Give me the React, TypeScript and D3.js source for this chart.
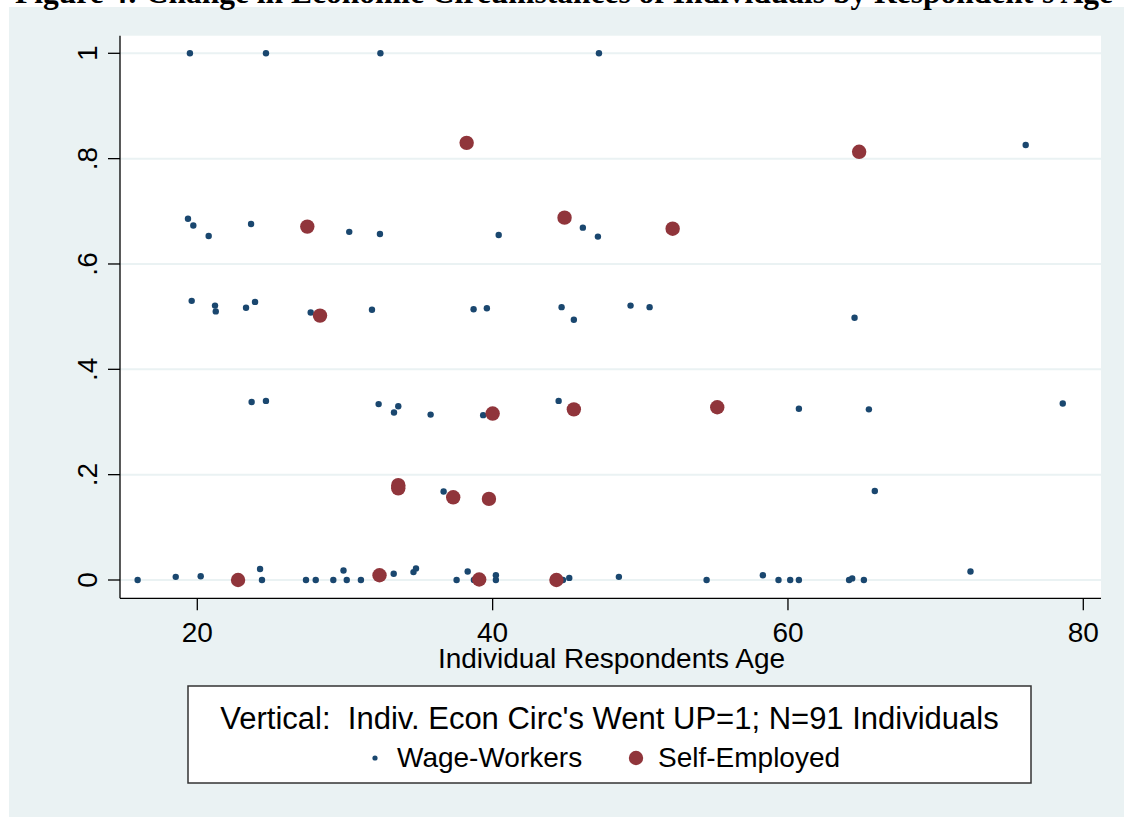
import React from "react";
import * as d3 from "d3";

const wageAge = [
  19.5, 24.65, 32.4, 47.2,
  76.1,
  19.37, 19.73, 20.77, 23.64, 30.29, 32.37, 40.41, 46.11, 47.13,
  19.62, 21.2, 21.25, 23.3, 23.91, 27.68, 31.83, 38.71, 39.61, 44.67, 45.5, 49.34, 50.63, 64.51,
  23.68, 24.65, 32.28, 33.32, 33.61, 35.8, 39.36, 44.47, 60.74, 65.48, 78.61,
  36.68, 65.88,
  15.96, 18.54, 20.23, 24.25, 24.38, 27.36, 28.02, 29.21, 29.9, 30.12, 31.08, 33.3, 34.64, 34.81,
  37.56, 38.31, 38.73, 40.22, 40.22, 44.76, 45.19, 48.55, 54.49, 58.3, 59.36, 60.15, 60.74,
  64.14, 64.35, 65.14, 72.36,
];
const wageUp = [
  1, 1, 1, 1,
  0.826,
  0.686, 0.673, 0.653, 0.676, 0.661, 0.657, 0.655, 0.669, 0.652,
  0.53, 0.521, 0.51, 0.517, 0.528, 0.508, 0.513, 0.514, 0.516, 0.518, 0.494, 0.521, 0.518, 0.498,
  0.338, 0.34, 0.334, 0.318, 0.33, 0.314, 0.313, 0.34, 0.325, 0.324, 0.335,
  0.168, 0.169,
  0, 0.006, 0.007, 0.021, 0, 0, 0, 0, 0.018, 0, 0, 0.012, 0.015, 0.022,
  0, 0.016, 0, 0.009, 0, 0, 0.004, 0.006, 0, 0.009, 0, 0, 0,
  0, 0.003, 0, 0.016,
];
const selfAge = [
  38.24, 64.82, 27.45, 44.87, 52.19, 28.31, 40.0, 45.5, 55.21,
  33.61, 33.61, 37.33, 39.75, 22.76, 32.34, 39.09, 44.32,
];
const selfUp = [
  0.83, 0.813, 0.671, 0.688, 0.667, 0.502, 0.316, 0.324, 0.328,
  0.18, 0.174, 0.157, 0.154, 0, 0.009, 0.001, 0,
];
const yTicks = [0, 0.2, 0.4, 0.6, 0.8, 1];
const yTickLabels = ["0", ".2", ".4", ".6", ".8", "1"];
const xTicks = [20, 40, 60, 80];
const xTickLabels = ["20", "40", "60", "80"];

const titleText = "Figure 4: Change in Economic Circumstances of Individuals by Respondent's Age";
const xTitle = "Individual Respondents Age";
const legendTitle = "Vertical:  Indiv. Econ Circ's Went UP=1; N=91 Individuals";
const seriesNames = ["Wage-Workers", "Self-Employed"];

const BLUE = "#1a476f";
const RED = "#90353b";
const BG = "#eaf2f3";
const FONT = "'Liberation Sans', Arial, sans-serif";

export default function App() {
  const W = 1124;
  const H = 817;
  const plot = { left: 120, right: 1101, top: 35.7, bottom: 598.3 };
  const x = d3.scaleLinear().domain([20, 80]).range([197.3, 1083.3]);
  const y = d3.scaleLinear().domain([0, 1]).range([580, 53.3]);

  const wage = wageAge.map((a, i) => ({ a, v: wageUp[i] }));
  const self = selfAge.map((a, i) => ({ a, v: selfUp[i] }));

  const legend = { left: 188, right: 1031, top: 686, bottom: 783 };
  const lcx = (legend.left + legend.right) / 2;

  return (
    <svg
      width={W}
      height={H}
      style={{ position: "absolute", left: 0, top: 0, background: "#ffffff" }}
    >
      <rect x={0} y={0} width={W} height={H} fill="#ffffff" />
      <rect x={9} y={7} width={W - 9} height={H - 7} fill={BG} />
      <text
        x={564}
        y={2.5}
        textAnchor="middle"
        fontFamily="'Liberation Serif', 'Times New Roman', serif"
        fontWeight="bold"
        fontSize={31.5}
        fill="#000"
      >
        {titleText}
      </text>

      <rect
        x={plot.left}
        y={plot.top}
        width={plot.right - plot.left}
        height={plot.bottom - plot.top}
        fill="#ffffff"
      />
      {yTicks.map((t) => (
        <line
          key={"g" + t}
          x1={plot.left}
          x2={plot.right}
          y1={y(t)}
          y2={y(t)}
          stroke={BG}
          strokeWidth={2}
        />
      ))}

      {/* axes */}
      <line x1={plot.left} x2={plot.left} y1={plot.top} y2={plot.bottom} stroke="#000" strokeWidth={1.3} />
      <line x1={plot.left} x2={plot.right} y1={plot.bottom} y2={plot.bottom} stroke="#000" strokeWidth={1.3} />
      {yTicks.map((t, i) => (
        <g key={"yt" + t}>
          <line x1={plot.left - 12} x2={plot.left} y1={y(t)} y2={y(t)} stroke="#000" strokeWidth={1.3} />
          <text
            transform={`translate(97,${y(t)}) rotate(-90)`}
            textAnchor="middle"
            fontFamily={FONT}
            fontSize={28}
            fill="#000"
          >
            {yTickLabels[i]}
          </text>
        </g>
      ))}
      {xTicks.map((t, i) => (
        <g key={"xt" + t}>
          <line x1={x(t)} x2={x(t)} y1={plot.bottom} y2={plot.bottom + 12} stroke="#000" strokeWidth={1.3} />
          <text x={x(t)} y={641.7} textAnchor="middle" fontFamily={FONT} fontSize={28} fill="#000">
            {xTickLabels[i]}
          </text>
        </g>
      ))}
      <text x={611.5} y={667.5} textAnchor="middle" fontFamily={FONT} fontSize={28} fill="#000">
        {xTitle}
      </text>

      {/* points */}
      {wage.map((d, i) => (
        <circle key={"w" + i} cx={x(d.a)} cy={y(d.v)} r={3.2} fill={BLUE} />
      ))}
      {self.map((d, i) => (
        <circle key={"s" + i} cx={x(d.a)} cy={y(d.v)} r={7.2} fill={RED} />
      ))}

      {/* legend */}
      <rect
        x={legend.left}
        y={legend.top}
        width={legend.right - legend.left}
        height={legend.bottom - legend.top}
        fill="#ffffff"
        stroke="#333"
        strokeWidth={1.5}
      />
      <text
        x={lcx}
        y={729}
        textAnchor="middle"
        fontFamily={FONT}
        fontSize={31}
        fill="#000"
        style={{ whiteSpace: "pre" }}
      >
        {legendTitle}
      </text>
      <circle cx={375} cy={758} r={2.6} fill={BLUE} />
      <text x={397} y={767} fontFamily={FONT} fontSize={28} fill="#000">
        {seriesNames[0]}
      </text>
      <circle cx={636} cy={758} r={7.2} fill={RED} />
      <text x={658} y={767} fontFamily={FONT} fontSize={28} fill="#000">
        {seriesNames[1]}
      </text>
    </svg>
  );
}
